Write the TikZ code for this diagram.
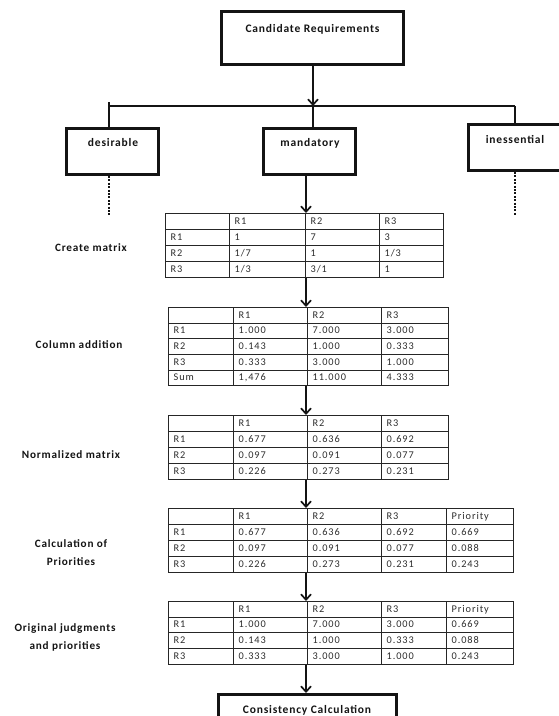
\documentclass[tikz,border=0pt]{standalone}
\usepackage{fontspec}
\setmainfont{Carlito}
\newfontfamily\tabfnt[LetterSpace=9]{Carlito}
\newfontfamily\lblfnt[LetterSpace=7]{Carlito}
\usetikzlibrary{matrix,arrows.meta}
\definecolor{ink}{HTML}{141414}
\definecolor{tline}{HTML}{262626}
\definecolor{ttext}{HTML}{2E2E2E}
\tikzset{
  box/.style={draw=ink, line width=3pt, fill=white, inner sep=0pt},
  btext/.style={font=\lblfnt\bfseries\fontsize{11.5}{13}\selectfont, text=ink, inner sep=0pt},
  side/.style={font=\lblfnt\bfseries\fontsize{11.2}{18}\selectfont, text=ink, align=center, inner sep=0pt},
  conn/.style={draw=ink, line width=1.7pt},
  arr/.style={conn, -{Straight Barb[length=5.5pt,width=10pt]}},
  dots/.style={draw=ink, line width=2.4pt, dash pattern=on 2pt off 1.4pt},
  cell/.style={draw=tline, line width=0.9pt, minimum height=16pt, inner xsep=5pt, inner ysep=0pt,
    text height=7.5pt, text depth=2pt, align=left, text=ttext, anchor=center,
    font=\tabfnt\fontsize{10.3}{12}\selectfont},
  tbl/.style={matrix of nodes, nodes in empty cells, ampersand replacement=\&,
    column sep=-0.9pt, row sep=-0.9pt, inner sep=0pt, anchor=north west, nodes={cell}},
  colsA/.style={column 1/.style={nodes={text width=54pt}}, column 2/.style={nodes={text width=66pt}},
    column 3/.style={nodes={text width=64pt}}, column 4/.style={nodes={text width=54pt}}},
  colsB/.style={column 1/.style={nodes={text width=55pt}}, column 2/.style={nodes={text width=64pt}},
    column 3/.style={nodes={text width=64pt}}, column 4/.style={nodes={text width=57pt}}},
  colsC/.style={column 1/.style={nodes={text width=55pt}}, column 2/.style={nodes={text width=64pt}},
    column 3/.style={nodes={text width=64pt}}, column 4/.style={nodes={text width=55pt}},
    column 5/.style={nodes={text width=57pt}}},
}
\begin{document}
\begin{tikzpicture}[x=1pt,y=-1pt]
\clip (0,0) rectangle (559,716);
\fill[white] (0,0) rectangle (559,716);

% junction coordinates
\coordinate (jc) at (313,106);
\coordinate (jl) at (109,106);
\coordinate (jlt) at (109,102);
\coordinate (jr) at (515,106);
\coordinate (ax) at (306,0);
\coordinate (dl) at (109,216);
\coordinate (dr) at (515,216);

% top boxes
\node[box, minimum width=182pt, minimum height=53pt] (cand) at (312.5,38) {};
\node[box, minimum width=92pt, minimum height=46pt] (des) at (112.5,151.5) {};
\node[box, minimum width=92pt, minimum height=46pt] (man) at (309.5,151.5) {};
\node[box, minimum width=92pt, minimum height=46pt] (ine) at (514.5,147.5) {};
\node[btext] (candt) at (312.5,29) {Candidate Requirements};
\node[btext] (dest) at (113,143) {desirable};
\node[btext] (mant) at (310,143) {mandatory};
\node[btext] (inet) at (515,139) {inessential};

% tree connectors
\draw[arr] (cand.south -| jc) -- (jc);
\draw[conn] (jl) -- (jr);
\draw[conn] (jlt) -- (jlt |- des.north);
\draw[conn] (jc) -- (jc |- man.north);
\draw[conn] (jr) -- (jr |- ine.north);
\draw[dots] (dl |- des.south) -- (dl);
\draw[dots] (dr |- ine.south) -- (dr);

% tables
\matrix[tbl, colsA] (t1) at (165,213) {
   \& R1 \& R2 \& R3 \\
R1 \& 1 \& 7 \& 3 \\
R2 \& 1/7 \& 1 \& 1/3 \\
R3 \& 1/3 \& 3/1 \& 1 \\
};
\matrix[tbl, colsB, nodes={minimum height=15.6pt}] (t2) at (168,307) {
   \& R1 \& R2 \& R3 \\
R1 \& 1.000 \& 7.000 \& 3.000 \\
R2 \& 0.143 \& 1.000 \& 0.333 \\
R3 \& 0.333 \& 3.000 \& 1.000 \\
Sum \& 1,476 \& 11.000 \& 4.333 \\
};
\matrix[tbl, colsB] (t3) at (168,415) {
   \& R1 \& R2 \& R3 \\
R1 \& 0.677 \& 0.636 \& 0.692 \\
R2 \& 0.097 \& 0.091 \& 0.077 \\
R3 \& 0.226 \& 0.273 \& 0.231 \\
};
\matrix[tbl, colsC] (t4) at (168,508) {
   \& R1 \& R2 \& R3 \& Priority \\
R1 \& 0.677 \& 0.636 \& 0.692 \& 0.669 \\
R2 \& 0.097 \& 0.091 \& 0.077 \& 0.088 \\
R3 \& 0.226 \& 0.273 \& 0.231 \& 0.243 \\
};
\matrix[tbl, colsC, nodes={minimum height=15.6pt}] (t5) at (168,601) {
   \& R1 \& R2 \& R3 \& Priority \\
R1 \& 1.000 \& 7.000 \& 3.000 \& 0.669 \\
R2 \& 0.143 \& 1.000 \& 0.333 \& 0.088 \\
R3 \& 0.333 \& 3.000 \& 1.000 \& 0.243 \\
};

% bottom box
\node[box, minimum width=178pt, minimum height=44pt] (cons) at (307.5,716.5) {};
\node[btext] (const) at (307,710) {Consistency Calculation};

% flow arrows
\draw[arr] (man.south -| ax) -- (t1.north -| ax);
\draw[arr] (t1.south -| ax) -- (t2.north -| ax);
\draw[arr] (t2.south -| ax) -- (t3.north -| ax);
\draw[arr] (t3.south -| ax) -- (t4.north -| ax);
\draw[arr] (t4.south -| ax) -- (t5.north -| ax);
\draw[arr] (t5.south -| ax) -- (cons.north -| ax);

% side labels
\node[side] (l1) at (91,248) {Create matrix};
\node[side] (l2) at (79,345) {Column addition};
\node[side] (l3) at (71,455) {Normalized matrix};
\node[side] (l4) at (71,553) {Calculation of\\Priorities};
\node[side] (l5) at (65,637) {Original judgments\\and priorities};
\end{tikzpicture}
\end{document}
